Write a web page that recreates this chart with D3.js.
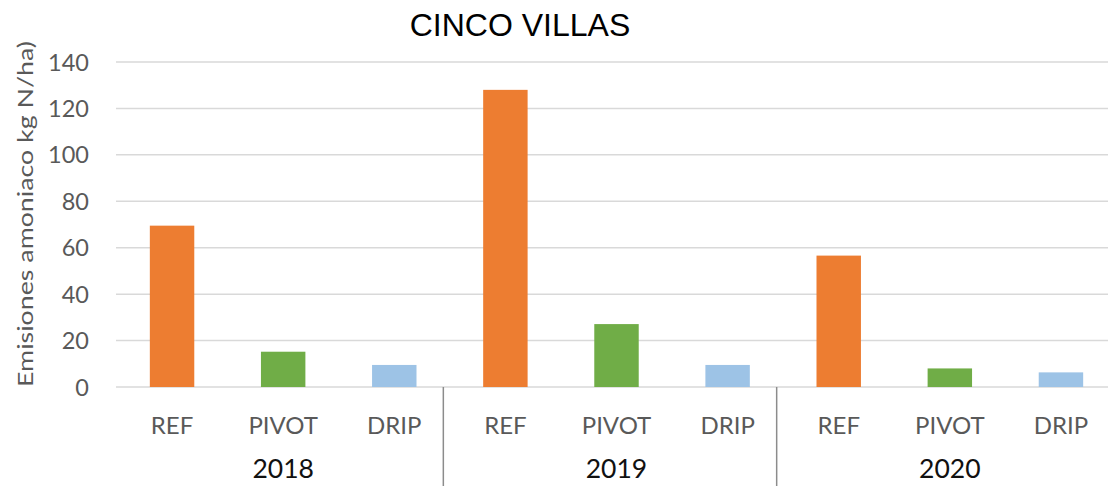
<!DOCTYPE html>
<html><head><meta charset="utf-8">
<script src="https://cdn.jsdelivr.net/npm/d3@7"></script>
<style>body{margin:0;background:#fff}svg{display:block}</style>
</head><body><svg id="c" width="1108" height="486"></svg>
<script>
const years = ["2018","2019","2020"];
const treatments = ["REF","PIVOT","DRIP"];
const values2018 = [69.5, 15.2, 9.5];
const values2019 = [128, 27.1, 9.5];
const values2020 = [56.6, 8.0, 6.3];
const yTicks = [0,20,40,60,80,100,120,140];
const colors = {REF:"#ED7D31", PIVOT:"#70AD47", DRIP:"#9DC3E6"};

const allVals = [values2018, values2019, values2020];
const data = [];
years.forEach((yr,i)=>treatments.forEach((t,j)=>data.push({year:yr,t:t,key:yr+"-"+t,v:allVals[i][j]})));

const svg = d3.select("#c");
const x = d3.scaleBand().domain(data.map(d=>d.key)).range([116.5,1116.5]).paddingInner(0.6).paddingOuter(0.3);
const y = d3.scaleLinear().domain([0,140]).range([387,62]);
const font = "Lato, 'Open Sans', sans-serif";

// gridlines
svg.append("g").selectAll("line").data(yTicks).join("line")
  .attr("x1",116).attr("x2",1108).attr("y1",d=>y(d)).attr("y2",d=>y(d))
  .attr("stroke","#d9d9d9").attr("stroke-width",1.5);

// y tick labels
svg.append("g").selectAll("text").data(yTicks).join("text")
  .attr("x",89).attr("y",d=>y(d)+8.5).attr("text-anchor","end")
  .attr("font-family",font).attr("font-size",23.5).attr("fill","#595959")
  .text(d=>d);

// bars
svg.append("g").selectAll("rect").data(data).join("rect")
  .attr("x",d=>x(d.key)).attr("width",x.bandwidth())
  .attr("y",d=>y(d.v)).attr("height",d=>y(0)-y(d.v))
  .attr("fill",d=>colors[d.t]);

// category labels
svg.append("g").selectAll("text").data(data).join("text")
  .attr("x",d=>x(d.key)+x.bandwidth()/2).attr("y",434).attr("text-anchor","middle")
  .attr("font-family",font).attr("font-size",24).attr("fill","#595959")
  .text(d=>d.t);

// year labels
const step = x.step();
svg.append("g").selectAll("text").data(years).join("text")
  .attr("x",yr=>x(yr+"-PIVOT")+x.bandwidth()/2).attr("y",478).attr("text-anchor","middle")
  .attr("font-family",font).attr("font-size",26.5).attr("fill","#111")
  .text(d=>d);

// separators
svg.append("g").selectAll("line").data(years.slice(1)).join("line")
  .attr("x1",yr=>x(yr+"-REF")+x.bandwidth()/2-step/2-6.5)
  .attr("x2",yr=>x(yr+"-REF")+x.bandwidth()/2-step/2-6.5)
  .attr("y1",387).attr("y2",486).attr("stroke","#8c8c8c").attr("stroke-width",1.5);

// y axis title
svg.append("text").attr("transform","translate(33,214) rotate(-90)").attr("text-anchor","middle")
  .attr("font-family",font).attr("font-size",22).attr("fill","#595959")
  .attr("textLength",346).attr("lengthAdjust","spacingAndGlyphs")
  .text("Emisiones amoniaco kg N/ha)");

// title
svg.append("text").attr("x",520).attr("y",36).attr("text-anchor","middle")
  .attr("font-family","'Liberation Sans', Arial, sans-serif").attr("font-size",32).attr("fill","#000")
  .text("CINCO VILLAS");
</script></body></html>
